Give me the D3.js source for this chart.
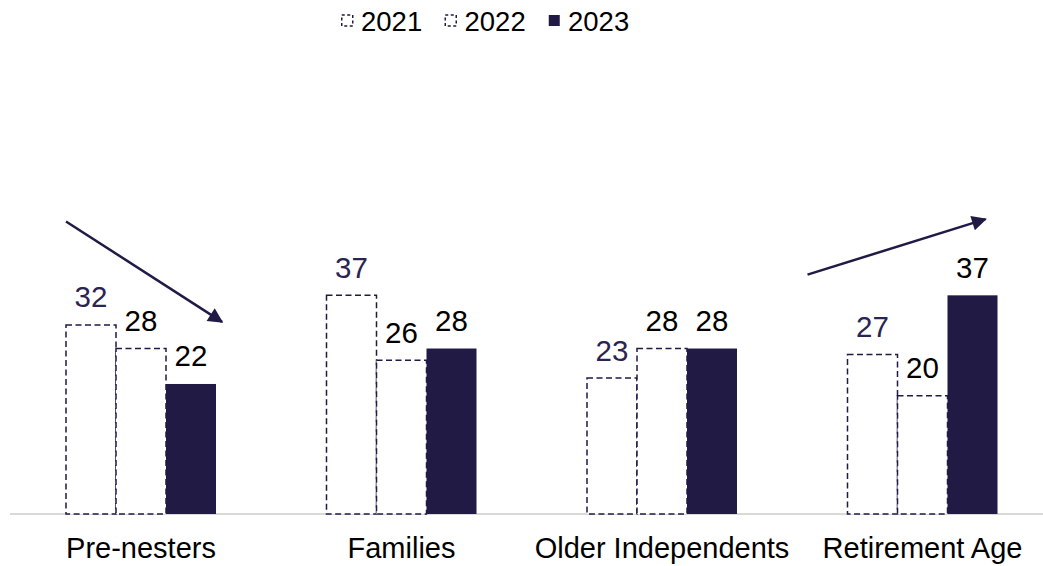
<!DOCTYPE html>
<html>
<head>
<meta charset="utf-8">
<script src="https://cdn.jsdelivr.net/npm/d3@7"></script>
<style>
  body { margin: 0; background: #fff; }
  text { font-family: "Liberation Sans", Arial, sans-serif; }
</style>
</head>
<body>
<script>
// chart values
var categories = ["Pre-nesters", "Families", "Older Independents", "Retirement Age"];
var years = ["2021", "2022", "2023"];
var values2021 = [32, 37, 23, 27];
var values2022 = [28, 26, 28, 20];
var values2023 = [22, 28, 28, 37];

var navy = "#211a45";
var w = 1043, h = 566;
var baseY = 514;

var data = categories.map(function (c, i) {
  return {cat: c, vals: [
    {year: "2021", v: values2021[i]},
    {year: "2022", v: values2022[i]},
    {year: "2023", v: values2023[i]}
  ]};
});

var svg = d3.select("body").append("svg").attr("width", w).attr("height", h);

var x0 = d3.scaleBand().domain(categories).range([10.75, 1052.75]);
var x1 = d3.scaleBand().domain(years).range([55.25, 205.25]);
var y = d3.scaleLinear().domain([0, 10]).range([baseY, baseY - 59.1]);

// x axis
var xAxis = svg.append("g")
  .attr("transform", "translate(0," + baseY + ")")
  .call(d3.axisBottom(x0).tickSize(0).tickPadding(23.5));
xAxis.select(".domain").attr("stroke", "#d9d9d9").attr("stroke-width", 2)
  .attr("d", "M10,0H1043");
xAxis.selectAll("text").attr("font-size", 29).attr("fill", "#000")
  .style("font-family", "'Liberation Sans', Arial, sans-serif");

// bars
var groups = svg.selectAll("g.grp").data(data).enter().append("g")
  .attr("class", "grp")
  .attr("transform", function (d) { return "translate(" + x0(d.cat) + ",0)"; });

groups.selectAll("rect").data(function (d) { return d.vals; }).enter().append("rect")
  .attr("x", function (d) { return x1(d.year); })
  .attr("y", function (d) { return y(d.v); })
  .attr("width", x1.bandwidth())
  .attr("height", function (d) { return baseY - y(d.v); })
  .attr("fill", function (d) { return d.year == "2023" ? navy : "#fff"; })
  .attr("stroke", function (d) { return d.year == "2023" ? "none" : navy; })
  .attr("stroke-width", 1.5)
  .attr("stroke-dasharray", function (d) { return d.year == "2023" ? null : "6,3.5"; });

groups.selectAll("text.lbl").data(function (d) { return d.vals; }).enter().append("text")
  .attr("class", "lbl")
  .attr("x", function (d) { return x1(d.year) + x1.bandwidth() / 2; })
  .attr("y", function (d) { return y(d.v) - 17.5; })
  .attr("text-anchor", "middle")
  .attr("font-size", 29.5)
  .attr("fill", function (d) { return d.year == "2021" ? "#2a2452" : "#000"; })
  .text(function (d) { return d.v; });

// trend arrows
svg.append("defs").append("marker")
  .attr("id", "head").attr("viewBox", "0 0 10 10")
  .attr("refX", 9).attr("refY", 5)
  .attr("markerWidth", 6.5).attr("markerHeight", 6)
  .attr("orient", "auto")
  .append("path").attr("d", "M0,0L10,5L0,10Z").attr("fill", navy);

var arrows = [
  {cat: "Pre-nesters", x1: 0, v1: 49.5, x2: 156, v2: 32.5},
  {cat: "Retirement Age", x1: -40, v1: 40.5, x2: 138, v2: 49.9}
];
svg.selectAll("line.arrow").data(arrows).enter().append("line")
  .attr("class", "arrow")
  .attr("x1", function (d) { return x0(d.cat) + x1("2021") + d.x1; })
  .attr("y1", function (d) { return y(d.v1); })
  .attr("x2", function (d) { return x0(d.cat) + x1("2021") + d.x2; })
  .attr("y2", function (d) { return y(d.v2); })
  .attr("stroke", navy).attr("stroke-width", 2.5)
  .attr("marker-end", "url(#head)");

// legend
var legend = svg.selectAll("g.leg").data(years).enter().append("g")
  .attr("class", "leg")
  .attr("transform", function (d, i) { return "translate(" + (341 + i * 103.5) + ",0)"; });
legend.append("rect")
  .attr("x", 0.75).attr("y", 15).attr("width", 11).attr("height", 11)
  .attr("fill", function (d) { return d == "2023" ? navy : "#fff"; })
  .attr("stroke", function (d) { return d == "2023" ? "none" : navy; })
  .attr("stroke-width", 1.5)
  .attr("stroke-dasharray", function (d) { return d == "2023" ? null : "3,2.5"; });
legend.append("text")
  .attr("x", 20).attr("y", 31)
  .attr("font-size", 27.5).attr("fill", "#000")
  .text(function (d) { return d; });
</script>
</body>
</html>
